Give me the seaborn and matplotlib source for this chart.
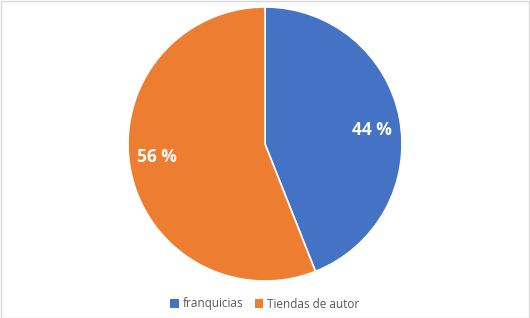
import matplotlib
matplotlib.use("Agg")
import matplotlib.pyplot as plt
import seaborn as sns
from matplotlib.patches import Rectangle, Patch

sns.set_style("white")
plt.rcParams['font.family'] = ['Open Sans', 'DejaVu Sans']

categories = ["franquicias", "Tiendas de autor"]
values = [44, 56]
colors = sns.color_palette(["#4472C4", "#ED7D31"])

W, H = 530, 318
fig = plt.figure(figsize=(W / 100, H / 100), dpi=100)
fig.patch.set_facecolor("white")

# faint border
fig.patches.append(Rectangle((0.5 / W, 0.5 / H), 1 - 1.5 / W, 1 - 1.5 / H, transform=fig.transFigure,
                             fill=False, edgecolor="#D9D9D9", linewidth=1))

cx, cy, r = 265, 318 - 144, 137
ax = fig.add_axes([(cx - r) / W, (cy - r) / H, 2 * r / W, 2 * r / H])
wedges, texts, autotexts = ax.pie(values, colors=colors, startangle=90, counterclock=False,
                                  autopct="%.0f %%", pctdistance=0.78, radius=1,
                                  wedgeprops=dict(edgecolor="white", linewidth=1.2),
                                  textprops=dict(color="white", fontsize=12.5, fontweight="bold"))
# Excel-like label placement
autotexts[0].set_position((0.78, 0.105))
autotexts[1].set_position((-0.79, -0.095))
ax.set_xlim(-1, 1)
ax.set_ylim(-1, 1)
ax.set_aspect("equal")
ax.axis("off")

handles = [Patch(facecolor=c, edgecolor="none") for c in colors]
fig.legend(handles, categories, loc="center", bbox_to_anchor=(265 / W, 1 - 304 / H), ncol=2,
           frameon=False, fontsize=8.5, handlelength=0.7, handleheight=0.7, handletextpad=0.4,
           columnspacing=0.9, labelcolor="#595959")

fig.savefig("out.png", dpi=100)
